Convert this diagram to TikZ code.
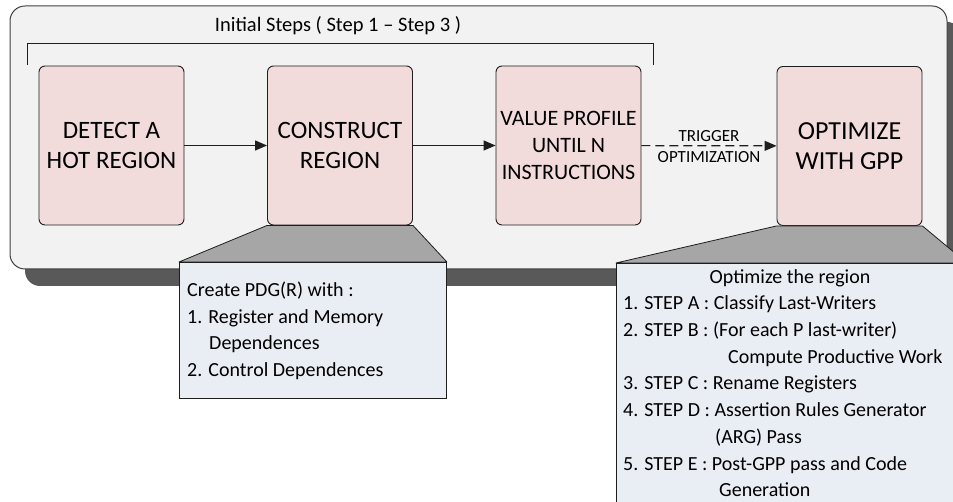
\documentclass[tikz,border=0pt]{standalone}
\usepackage{fontspec}
\setmainfont{Carlito}
\usetikzlibrary{arrows.meta}

\definecolor{panelfill}{HTML}{F2F2F2}
\definecolor{panelshadow}{HTML}{595959}
\definecolor{stepfill}{HTML}{F2DCDB}
\definecolor{notefill}{HTML}{E9EDF4}
\definecolor{neckfill}{HTML}{A6A6A6}
\definecolor{edge}{HTML}{1E1E1E}

\begin{document}
\begin{tikzpicture}[x=1pt,y=-1pt,
  stepbox/.style={draw=edge, line width=0.9pt, fill=stepfill, rounded corners=6pt,
    minimum width=145pt, minimum height=159pt, align=center, inner sep=0pt},
  bigcaps/.style={font=\fontsize{25}{30.7}\selectfont},
  flow/.style={draw=edge, line width=1.2pt, -{Triangle[length=12pt,width=10pt]}},
  notebox/.style={draw=edge, line width=0.9pt, fill=notefill, inner sep=0pt, anchor=north west},
  neck/.style={draw=edge, line width=0.8pt, fill=neckfill, line join=round},
  notetext/.style={anchor=base west, inner sep=0pt, font=\fontsize{20}{24}\selectfont},
  edgelabel/.style={inner sep=0pt, font=\fontsize{17}{20}\selectfont}
]
\useasboundingbox (0,0) rectangle (953,502);
\clip (0,0) rectangle (953,502);

% panel with drop shadow
\path[fill=panelshadow, rounded corners=15pt] (25,22) rectangle (962,286);
\path[fill=panelfill, draw=edge!85, line width=1pt, rounded corners=15pt] (10,6) rectangle (947,269);

% bracket over the initial steps
\draw[edge, line width=1pt] (27,65) -- (27,44) -- (653,44) -- (653,65);
\node[anchor=base, inner sep=0pt, font=\fontsize{20.5}{25}\selectfont] (initlbl) at (338,32)
  {Initial Steps ( Step 1 – Step 3 )};

% pipeline stages
\node[stepbox, bigcaps] (detect) at (111.5,145.5) {DETECT A\\HOT REGION};
\node[stepbox, bigcaps] (construct) at (340,145.5) {CONSTRUCT\\REGION};
\node[stepbox, font=\fontsize{22}{27}\selectfont] (value) at (568.5,145.5)
  {VALUE PROFILE\\UNTIL N\\INSTRUCTIONS};
\node[stepbox, font=\fontsize{26}{30}\selectfont] (optimize) at (849.5,146) {OPTIMIZE\\WITH GPP};

\draw[flow] (detect) -- (construct);
\draw[flow] (construct) -- (value);
\draw[flow, dash pattern=on 9pt off 5pt] (value) -- (optimize)
  node[edgelabel, midway, above=4pt] (trig) {TRIGGER}
  node[edgelabel, midway, below=5pt] (trigopt) {OPTIMIZATION};

% callout for the region construction
\node[notebox, minimum width=267pt, minimum height=136pt] (pdgnote) at (179,262) {};
\path[neck] (construct.south west) -- (construct.south east)
  -- (pdgnote.north east) -- (pdgnote.north west) -- cycle;
\node[notetext] (pdg0) at (187,296.7) {Create PDG(R) with :};
\node[notetext] (pdg1) at (187,323.3) {1. Register and Memory};
\node[notetext] (pdg2) at (209,350) {Dependences};
\node[notetext] (pdg3) at (187,376.7) {2. Control Dependences};

% callout for the GPP optimization
\node[notebox, minimum width=350pt, minimum height=260pt] (gppnote) at (616,263) {};
\path[neck] (optimize.south west) -- (optimize.south east)
  -- (gppnote.north east) -- (gppnote.north west) -- cycle;
\node[notetext, anchor=base] (gpp0) at (790,283.3) {Optimize the region};
\node[notetext] (gpp1) at (623,310) {1. STEP A : Classify Last-Writers};
\node[notetext] (gpp2) at (623,336.7) {2. STEP B : (For each P last-writer)};
\node[notetext] (gpp3) at (728,363.3) {Compute Productive Work};
\node[notetext] (gpp4) at (623,390) {3. STEP C : Rename Registers};
\node[notetext] (gpp5) at (623,416.7) {4. STEP D : Assertion Rules Generator};
\node[notetext] (gpp6) at (715,443.3) {(ARG) Pass};
\node[notetext] (gpp7) at (623,470) {5. STEP E : Post-GPP pass and Code};
\node[notetext] (gpp8) at (719,496.7) {Generation};
\end{tikzpicture}
\end{document}
